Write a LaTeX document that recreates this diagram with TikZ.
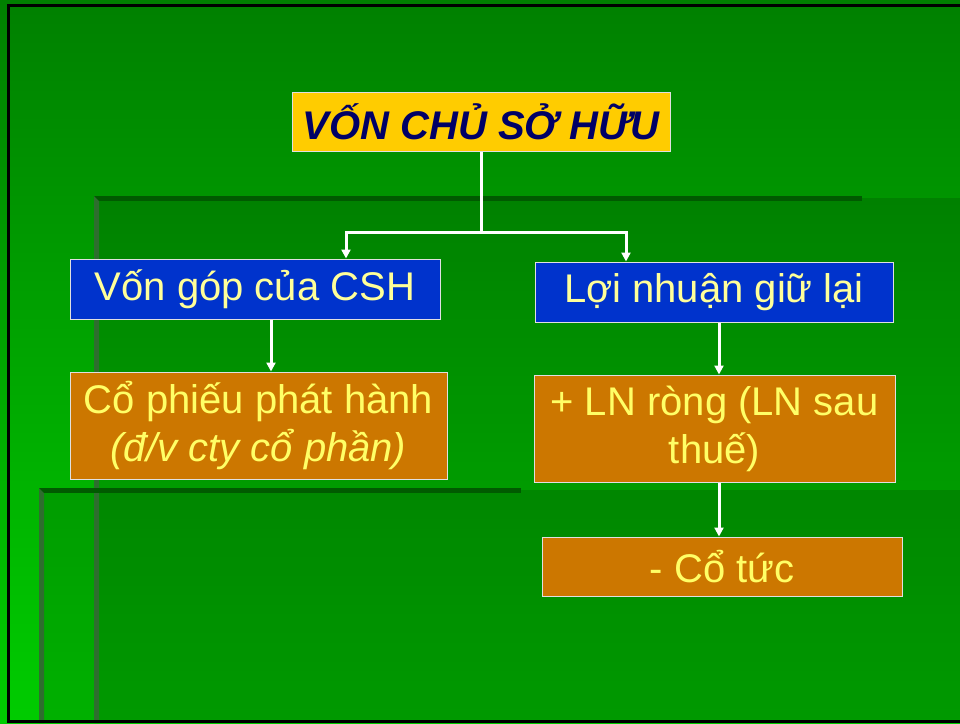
\documentclass[tikz,border=0pt]{standalone}
\usepackage{fontspec}
\setmainfont{Liberation Sans}
\usetikzlibrary{arrows.meta,positioning}

\definecolor{slidedark}{HTML}{008000}
\definecolor{slidelight}{HTML}{00CC00}
\definecolor{bevelline}{HTML}{005A00}
\definecolor{bevelside}{HTML}{2E6E2E}
\definecolor{titlefill}{HTML}{FFCC00}
\definecolor{titletext}{HTML}{000066}
\definecolor{bluefill}{HTML}{0033CC}
\definecolor{bluetext}{HTML}{FFFF99}
\definecolor{orangefill}{HTML}{CC7700}
\definecolor{orangetext}{HTML}{FFFF66}

\begin{document}
\begin{tikzpicture}[
  x=1pt, y=-1pt,
  >={Triangle[width=9pt,length=9pt]},
  every node/.style={draw=white!88!black,line width=1pt,inner sep=2pt,align=center,font=\fontsize{40}{48}\selectfont},
  titlebox/.style={fill=titlefill,text=titletext,font=\fontsize{40}{48}\selectfont\bfseries\itshape},
  bluebox/.style={fill=bluefill,text=bluetext,minimum height=60pt},
  orangebox/.style={fill=orangefill,text=orangetext},
  link/.style={draw=white,line width=3pt},
  ]
  \useasboundingbox (0,0) rectangle (960,723);

  % slide background and the two bevelled panels
  \shade[top color=slidedark, bottom color=slidelight] (0,0) rectangle (960,723);
  \fill[black, opacity=.13] (97,198) rectangle (960,723);
  \fill[black, opacity=.13] (42,490) rectangle (960,723);
  \fill[bevelline] (94,196) rectangle (862,201);
  \fill[bevelside] (94,196) -- (99,201) -- (99,723) -- (94,723) -- cycle;
  \fill[bevelline] (39,488) rectangle (521,493);
  \fill[bevelside] (39,488) -- (44,493) -- (44,723) -- (39,723) -- cycle;
  \draw[black, line width=3pt] (960,5) -- (8,5) -- (8,721) -- (960,721);

  \node[titlebox, minimum width=378pt, minimum height=59pt] (voncsh) at (481,121.5) {VỐN CHỦ SỞ HỮU};
  \node[bluebox, minimum width=370pt] (vongop) at (255,289) {Vốn góp của CSH};
  \node[bluebox, minimum width=358pt] (loinhuan) at (714,292) {Lợi nhuận giữ lại};
  \node[orangebox, minimum width=377pt, minimum height=107pt] (cophieu) at (258.5,425.5) {Cổ phiếu phát hành\\\textit{(đ/v cty cổ phần)}};
  \node[orangebox, minimum width=361pt, minimum height=107pt] (lnrong) at (714.5,428.5) {+ LN ròng (LN sau\\thuế)};
  \node[orangebox, minimum width=360pt, minimum height=59pt] (cotuc) at (722,566.5) {- Cổ tức};

  \coordinate (split) at (481,232);
  \coordinate (splitL) at (346,232);
  \coordinate (splitR) at (626,232);

  \draw[link] (voncsh) -- (split);
  \draw[link,->] (split) -| (splitL |- vongop.north);
  \draw[link,->] (split) -| (splitR |- loinhuan.north);
  \draw[link,->] ([xshift=16pt]vongop.south) -- ([xshift=16pt]vongop.south |- cophieu.north);
  \draw[link,->] ([xshift=5pt]loinhuan.south) -- ([xshift=5pt]loinhuan.south |- lnrong.north);
  \draw[link,->] ([xshift=4.5pt]lnrong.south) -- ([xshift=4.5pt]lnrong.south |- cotuc.north);

\end{tikzpicture}
\end{document}
